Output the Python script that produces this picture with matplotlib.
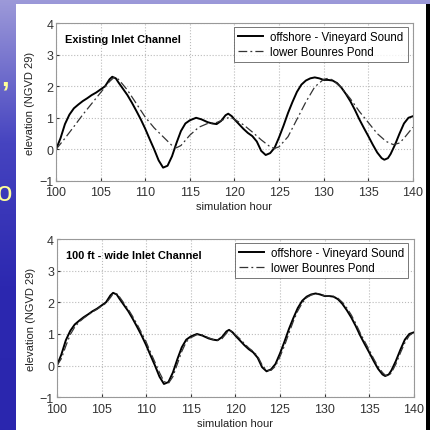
import numpy as np
import matplotlib
matplotlib.use("Agg")
import matplotlib.pyplot as plt
from matplotlib.patches import Rectangle
from matplotlib.colors import LinearSegmentedColormap

plt.rcParams['font.family'] = ['Liberation Sans', 'DejaVu Sans']

# --- data ---
hours = [100, 100.5, 101, 101.5, 102, 102.5, 103, 103.5, 104, 104.5, 105, 105.5,
         106, 106.3, 106.7, 107, 107.5, 108, 108.5, 109, 109.5, 110, 110.5, 111,
         111.5, 112, 112.5, 113, 113.5, 114, 114.5, 115, 115.7, 116.3, 117, 117.5,
         118, 118.5, 119, 119.3, 119.7, 120, 120.5, 121, 121.5, 122, 122.5, 123,
         123.5, 124, 124.5, 125, 125.5, 126, 126.5, 127, 127.5, 128, 128.5, 129,
         129.5, 130, 130.5, 131, 131.5, 132, 132.5, 133, 133.5, 134, 134.5, 135,
         135.5, 136, 136.5, 136.8, 137.2, 137.5, 138, 138.5, 139, 139.5, 140]

offshore = [0.0, 0.35, 0.8, 1.1, 1.3, 1.42, 1.53, 1.62, 1.72, 1.8, 1.9, 2.0,
            2.22, 2.3, 2.25, 2.12, 1.92, 1.72, 1.48, 1.22, 0.95, 0.65, 0.32, 0.0,
            -0.35, -0.58, -0.52, -0.22, 0.2, 0.58, 0.82, 0.92, 1.0, 0.95, 0.86, 0.82,
            0.8, 0.9, 1.08, 1.13, 1.05, 0.95, 0.8, 0.65, 0.52, 0.42, 0.25, -0.05,
            -0.18, -0.12, 0.05, 0.38, 0.75, 1.15, 1.5, 1.82, 2.05, 2.18, 2.25, 2.28,
            2.25, 2.2, 2.2, 2.18, 2.1, 1.95, 1.75, 1.52, 1.25, 0.95, 0.68, 0.42,
            0.15, -0.1, -0.28, -0.33, -0.28, -0.15, 0.15, 0.5, 0.82, 1.0, 1.05]

pond_hours = [100, 101, 102, 103, 104, 105, 106, 106.5, 107, 108, 109, 110, 111,
              112, 113, 113.5, 114, 115, 116, 117, 118, 119, 119.5, 120, 121, 122,
              123, 124, 124.5, 125, 126, 127, 128, 129, 130, 130.5, 131, 132, 133,
              134, 135, 136, 137, 137.8, 138.5, 139, 140]
pond_existing = [0, 0.35, 0.72, 1.1, 1.45, 1.8, 2.15, 2.28, 2.22, 1.88, 1.45, 1.02,
                 0.68, 0.4, 0.12, 0.05, 0.12, 0.45, 0.7, 0.82, 0.85, 0.97, 1.02,
                 0.95, 0.78, 0.55, 0.3, 0.08, 0.03, 0.08, 0.4, 0.95, 1.5, 1.98,
                 2.22, 2.25, 2.2, 1.95, 1.6, 1.2, 0.85, 0.5, 0.25, 0.15, 0.2, 0.35,
                 0.7]

pond_wide = [0.0, 0.22, 0.62, 0.98, 1.22, 1.38, 1.5, 1.6, 1.7, 1.78, 1.88, 1.97,
             2.15, 2.27, 2.27, 2.18, 1.98, 1.78, 1.55, 1.3, 1.03, 0.75, 0.42, 0.1,
             -0.22, -0.5, -0.56, -0.35, 0.05, 0.45, 0.75, 0.88, 0.98, 0.97, 0.88,
             0.83, 0.8, 0.85, 1.02, 1.1, 1.08, 0.98, 0.85, 0.7, 0.56, 0.45, 0.3,
             0.02, -0.15, -0.15, -0.02, 0.28, 0.62, 1.02, 1.4, 1.73, 1.98, 2.15,
             2.23, 2.27, 2.26, 2.21, 2.2, 2.19, 2.13, 2.0, 1.82, 1.6, 1.33, 1.03,
             0.76, 0.5, 0.22, -0.03, -0.22, -0.3, -0.32, -0.22, 0.05, 0.4, 0.72,
             0.95, 1.05]

titles = ['Existing Inlet Channel', '100 ft - wide Inlet Channel']
legend_labels = ['offshore - Vineyard Sound', 'lower Bounres Pond']

W, H = 431, 431
fig = plt.figure(figsize=(W / 100, H / 100), dpi=100)

# slide background: blue gradient
bg = fig.add_axes([0, 0, 1, 1])
bg.set_axis_off()
cmap = LinearSegmentedColormap.from_list('slide', ['#9d9ad9', '#4644c0', '#2c28b0', '#2a26ae'])
grad = np.linspace(0, 1, 256).reshape(-1, 1)
bg.imshow(grad, aspect='auto', cmap=cmap, extent=[0, W, H, 0])
bg.set_xlim(0, W)
bg.set_ylim(H, 0)
bg.add_patch(Rectangle((16, 5), 410, 426, facecolor='white', edgecolor='none'))
bg.add_patch(Rectangle((426, 5), 4, 426, facecolor='black', edgecolor='none'))
# bits of slide text peeking out at the left
bg.text(1, 86, ',', fontsize=20, color='#ffff99', fontweight='bold', ha='left', va='baseline')
bg.text(-3, 201, 'o', fontsize=20, color='#ffff99', ha='left', va='baseline')

positions = [[0.130, 0.578, 0.828, 0.366], [0.132, 0.076, 0.828, 0.367]]
ponds = [(pond_hours, pond_existing), (hours, pond_wide)]

for i in range(2):
    ax = fig.add_axes(positions[i])
    ax.plot(hours, offshore, color='black', lw=1.4, label=legend_labels[0])
    ax.plot(ponds[i][0], ponds[i][1], color='#333333', lw=0.9, ls='-.',
            dashes=(7, 2.5, 1.5, 2.5), label=legend_labels[1])
    ax.set_xlim(100, 140)
    ax.set_ylim(-1, 4)
    ax.set_xticks(range(100, 141, 5))
    ax.set_yticks(range(-1, 5))
    ax.grid(True, ls=':', color='#bbbbbb', lw=0.8)
    ax.tick_params(labelsize=9, length=2, direction='in', colors='#333333')
    ax.tick_params(axis='x', pad=4)
    ax.tick_params(axis='y', pad=2)
    for s in ax.spines.values():
        s.set_color('#999999')
        s.set_linewidth(0.8)
    ax.set_xlabel('simulation hour', fontsize=8, color='#222222', labelpad=2)
    ax.set_ylabel('elevation (NGVD 29)', fontsize=8, color='#222222', labelpad=3)
    ax.text(0.025, 0.93, titles[i], transform=ax.transAxes, fontsize=7.9,
            fontweight='bold', va='top', ha='left')
    leg = ax.legend(loc='upper right', fontsize=8.3, frameon=True, fancybox=False,
                    handlelength=2.2, handletextpad=0.6, borderpad=0.35,
                    labelspacing=0.25, borderaxespad=0.0,
                    bbox_to_anchor=(0.985, 0.975))
    leg.get_frame().set_edgecolor('#555555')
    leg.get_frame().set_linewidth(0.7)

fig.savefig('out.png', dpi=100)
